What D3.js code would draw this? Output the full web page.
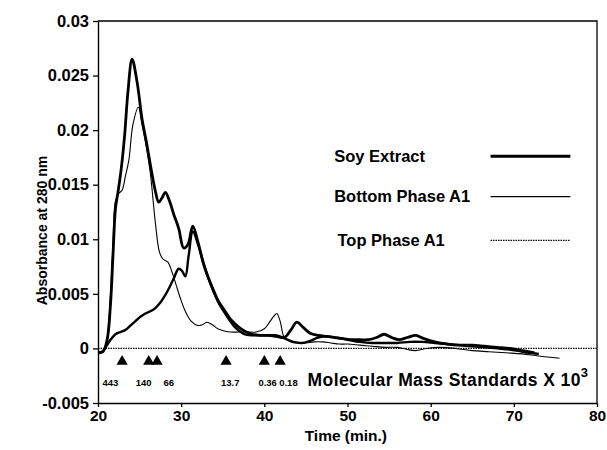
<!DOCTYPE html>
<html>
<head>
<meta charset="utf-8">
<script src="https://cdn.jsdelivr.net/npm/d3@7"></script>
<style>
  body { margin: 0; background: #fff; }
  svg text { font-family: "Liberation Sans", Arial, sans-serif; fill: #000; }
</style>
</head>
<body>
<svg id="chart" width="607" height="450"></svg>
<script>
// Soy extract (thick line)
const soyTime = [20, 20.6, 21.1, 21.5, 21.8, 22.1, 22.4, 22.8, 23.2, 23.6, 24.1, 24.7, 25.3, 25.8, 26.3, 26.9, 27.3, 27.7, 28.1, 28.6, 29.1, 29.7, 30.3, 30.8, 31.4, 32.0, 32.7, 33.3, 33.9, 34.5, 35.2, 35.8, 36.4, 37.0, 37.6, 38.5, 39.5, 40.5, 41.5, 42.4, 43.2, 43.9, 44.7, 45.5, 46.5, 47.5, 48.5, 49.5, 50.5, 51.5, 52.5, 53.5, 54.4, 55.3, 56.2, 57.2, 58.2, 59.2, 60.5, 62, 63.5, 65, 66.5, 68, 69.5, 71, 72.5];
const soyAbs = [-0.0004, -0.0003, 0.0008, 0.004, 0.0085, 0.0128, 0.0143, 0.0165, 0.0195, 0.0235, 0.0265, 0.0244, 0.021, 0.019, 0.0168, 0.0144, 0.0134, 0.0138, 0.0143, 0.0135, 0.0123, 0.011, 0.0092, 0.0095, 0.0112, 0.0098, 0.0077, 0.0064, 0.0053, 0.0043, 0.0035, 0.0028, 0.0023, 0.0019, 0.0016, 0.0013, 0.0012, 0.0012, 0.0011, 0.001, 0.0017, 0.0024, 0.0019, 0.0014, 0.0012, 0.0011, 0.001, 0.0009, 0.0008, 0.0008, 0.0008, 0.001, 0.0013, 0.001, 0.0008, 0.001, 0.0012, 0.0009, 0.0006, 0.0004, 0.0003, 0.0003, 0.0002, 0.0001, 0, -0.0002, -0.0004];

// Bottom phase A1 (thin line)
const bottomTime = [20, 20.6, 21.1, 21.5, 21.8, 22.1, 22.5, 22.9, 23.3, 23.7, 24.2, 24.85, 25.3, 25.8, 26.3, 26.9, 27.4, 27.8, 28.4, 28.9, 29.4, 29.9, 30.5, 31.2, 32.0, 32.6, 33.1, 33.7, 34.4, 35.2, 36, 37, 38, 39, 40, 40.7, 41.2, 41.5, 41.9, 42.4, 43.2, 44, 45, 46, 47, 48, 49, 50, 51.5, 53, 54.5, 56, 57.2, 58.2, 59.5, 61, 63, 65, 67, 69, 71, 73, 75.5];
const bottomAbs = [-0.0003, -0.0002, 0.001, 0.005, 0.0095, 0.0135, 0.0142, 0.0145, 0.0158, 0.0172, 0.0205, 0.0221, 0.0205, 0.0185, 0.016, 0.0115, 0.0088, 0.0082, 0.0079, 0.007, 0.0058, 0.0046, 0.0034, 0.0025, 0.0021, 0.0022, 0.0024, 0.0022, 0.0018, 0.0016, 0.0015, 0.0015, 0.0015, 0.0015, 0.0018, 0.0025, 0.003, 0.0032, 0.0025, 0.001, 0.0006, 0.0005, 0.0005, 0.0006, 0.0006, 0.0005, 0.0004, 0.0004, 0.0003, 0.0002, 0.0001, 0.0001, -0.0001, -0.0002, 0, 0.0001, 0, -0.0002, -0.0003, -0.0004, -0.0005, -0.0007, -0.0009];

// late-eluting trace (thick, rises slowly)
const lateTime = [20, 20.5, 21, 21.5, 22.1, 22.7, 23.3, 23.9, 24.5, 25.1, 25.7, 26.3, 26.9, 27.5, 28.1, 28.6, 29.1, 29.7, 30.1, 30.5, 30.9, 31.4, 32, 32.7, 33.3, 33.9, 34.5, 35.2, 35.8, 36.4, 37, 37.6, 38.5, 39.5, 40.5, 41.5, 42.5, 43.5, 44.5, 45.5, 46.5, 47.5, 48.5, 50, 51.5, 53, 54.5, 56, 57.5, 59, 60.5, 62, 63.5, 65, 66.5, 68, 69.5, 71, 73];
const lateAbs = [-0.0004, -0.0003, 0.0002, 0.0008, 0.0013, 0.0015, 0.0017, 0.0021, 0.0025, 0.0029, 0.0032, 0.0034, 0.0037, 0.0042, 0.0049, 0.0056, 0.0064, 0.0073, 0.0071, 0.0066, 0.0085, 0.0107, 0.0096, 0.0078, 0.0064, 0.0052, 0.0042, 0.0033, 0.0026, 0.002, 0.0016, 0.0013, 0.0012, 0.0012, 0.0012, 0.0012, 0.0009, 0.0006, 0.0005, 0.0007, 0.001, 0.0011, 0.001, 0.0008, 0.0006, 0.0005, 0.0005, 0.0005, 0.0006, 0.0006, 0.0005, 0.0004, 0.0003, 0.0002, 0.0001, 0, -0.0001, -0.0003, -0.0005];

// Top phase A1 (dotted, flat at zero)
const topTime = [20, 80];
const topAbs = [0, 0];

// molecular mass standards (x 10^3)
const stdTime = [22.9, 26.1, 27.1, 35.4, 40.0, 41.9];
const stdLabelTime = [21.5, 25.5, 28.5, 35.9, 40.4, 42.9];
const stdLabels = ["443", "140", "66", "13.7", "0.36", "0.18"];

const xTicks = [20, 30, 40, 50, 60, 70, 80];
const yTicks = [-0.005, 0, 0.005, 0.01, 0.015, 0.02, 0.025, 0.03];

const legendNames = ["Soy Extract", "Bottom Phase A1", "Top Phase A1"];

const svg = d3.select("#chart");

const x = d3.scaleLinear().domain([20, 80]).range([98, 597]);
const y = d3.scaleLinear().domain([-0.005, 0.03]).range([403, 21]);

// frame top + right
svg.append("path")
    .attr("d", `M${x(20)},${y(0.03)}H${x(80)}V${y(-0.005)}`)
    .attr("fill", "none")
    .attr("stroke", "#000")
    .attr("stroke-width", 1.3);

const xAxis = svg.append("g")
    .attr("transform", `translate(0,${y(-0.005)})`)
    .call(d3.axisBottom(x).tickValues(xTicks).tickSize(4).tickSizeOuter(0).tickFormat(d3.format("d")));
xAxis.selectAll("text").style("font-size", "15.5px").style("font-weight", "bold");

const yAxis = svg.append("g")
    .attr("transform", `translate(${x(20)},0)`)
    .call(d3.axisLeft(y).tickValues(yTicks).tickSize(5).tickSizeOuter(0).tickFormat(d => String(+d.toFixed(3))));
yAxis.selectAll("text").attr("dx", "-1px").style("font-size", "16.5px").style("font-weight", "bold");

svg.selectAll(".domain").attr("stroke-width", 1.4);
svg.selectAll(".tick line").attr("stroke-width", 1.3);

const line = d3.line()
    .x(d => x(d[0]))
    .y(d => y(d[1]))
    .curve(d3.curveCatmullRom.alpha(0.5));

// zero baseline (top phase)
svg.append("path")
    .datum(d3.zip(topTime, topAbs))
    .attr("d", line)
    .attr("fill", "none")
    .attr("stroke", "#000")
    .attr("stroke-width", 1.2)
    .attr("stroke-dasharray", "1.5,1");

svg.append("path")
    .datum(d3.zip(lateTime, lateAbs))
    .attr("d", line)
    .attr("fill", "none")
    .attr("stroke", "#000")
    .attr("stroke-width", 2.4)
    .attr("stroke-linejoin", "round");

svg.append("path")
    .datum(d3.zip(bottomTime, bottomAbs))
    .attr("d", line)
    .attr("fill", "none")
    .attr("stroke", "#000")
    .attr("stroke-width", 1.1)
    .attr("stroke-linejoin", "round");

svg.append("path")
    .datum(d3.zip(soyTime, soyAbs))
    .attr("d", line)
    .attr("fill", "none")
    .attr("stroke", "#000")
    .attr("stroke-width", 2.8)
    .attr("stroke-linejoin", "round");

// standards markers
svg.append("g")
    .selectAll("path")
    .data(stdTime)
    .enter()
    .append("path")
    .attr("d", d3.symbol().type(d3.symbolTriangle).size(55))
    .attr("transform", d => `translate(${x(d)},${y(-0.0012)})`)
    .attr("fill", "#000");

svg.append("g")
    .selectAll("text")
    .data(stdLabels)
    .enter()
    .append("text")
    .text(d => d)
    .attr("x", (d, i) => x(stdLabelTime[i]))
    .attr("y", y(-0.0034))
    .attr("text-anchor", "middle")
    .style("font-size", "9.5px")
    .style("font-weight", "bold");

const mm = svg.append("text")
    .attr("x", x(45.2))
    .attr("y", y(-0.0034))
    .style("font-size", "17.5px")
    .style("letter-spacing", "0.4px")
    .style("font-weight", "bold");
mm.append("tspan").text("Molecular Mass Standards X 10");
mm.append("tspan").text("3").attr("dy", "-9").style("font-size", "13px");

// axis titles
svg.append("text")
    .text("Time (min.)")
    .attr("x", x(49.8))
    .attr("y", 441)
    .attr("text-anchor", "middle")
    .style("font-size", "15.5px")
    .style("font-weight", "bold");

svg.append("text")
    .text("Absorbance at 280 nm")
    .attr("transform", `translate(47,${y(0.0108)}) rotate(-90)`)
    .attr("text-anchor", "middle")
    .style("font-size", "14px")
    .style("font-weight", "bold");

// legend
const legendY = [0.0176, 0.0139, 0.0099];
const legendStyle = [{ w: 3, dash: null }, { w: 1.2, dash: null }, { w: 1.3, dash: "1.5,1" }];
const legend = svg.append("g");
legend.selectAll("text")
    .data(legendNames)
    .enter()
    .append("text")
    .text(d => d)
    .attr("x", (d, i) => x(i == 2 ? 48.8 : 48.4))
    .attr("y", (d, i) => y(legendY[i]))
    .attr("dy", "0.35em")
    .style("font-size", "16.5px")
    .style("font-weight", "bold");
legend.selectAll("line")
    .data(legendNames)
    .enter()
    .append("line")
    .attr("x1", x(67.2))
    .attr("x2", x(76.8))
    .attr("y1", (d, i) => y(legendY[i]))
    .attr("y2", (d, i) => y(legendY[i]))
    .attr("stroke", "#000")
    .attr("stroke-width", (d, i) => legendStyle[i].w)
    .attr("stroke-dasharray", (d, i) => legendStyle[i].dash);
</script>
</body>
</html>
